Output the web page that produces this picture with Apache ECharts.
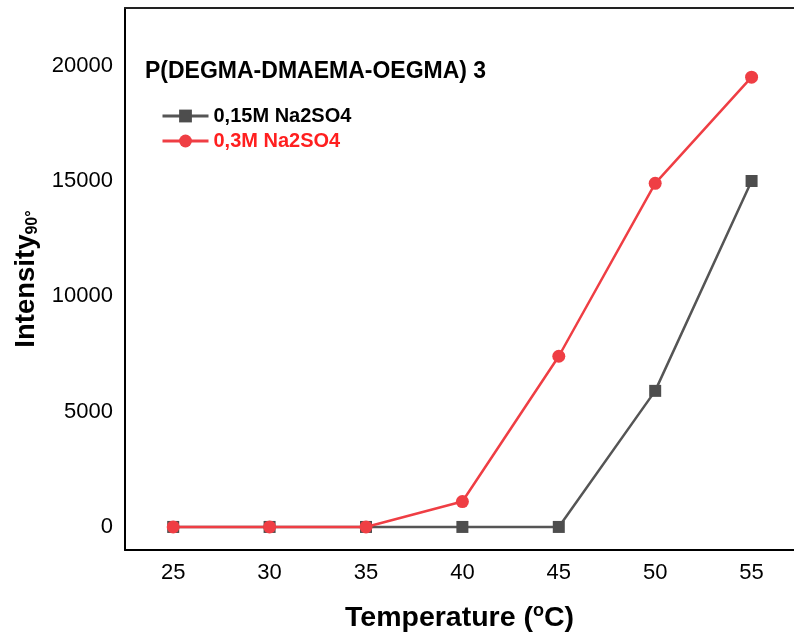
<!DOCTYPE html>
<html>
<head>
<meta charset="utf-8">
<script src="https://cdn.jsdelivr.net/npm/echarts@6/dist/echarts.min.js"></script>
<style>html,body{margin:0;padding:0;background:#fff;}#c{width:794px;height:639px;}</style>
</head>
<body>
<div id="c"></div>
<script>
var temperatures = [25, 30, 35, 40, 45, 50, 55];
var na2so4_015 = [0, 0, 0, 0, 0, 5900, 15000];
var na2so4_03 = [0, 0, 0, 1100, 7400, 14900, 19500];
var xTicks = [25, 30, 35, 40, 45, 50, 55];
var yTicks = [0, 5000, 10000, 15000, 20000];
var seriesNames = ['0,15M Na2SO4', '0,3M Na2SO4'];
var titleText = 'P(DEGMA-DMAEMA-OEGMA) 3';

function pairs(xs, ys) { return xs.map(function (x, i) { return [x, ys[i]]; }); }
function plain(v) { return String(v); }

var font = 'Liberation Sans, Arial, sans-serif';
var chart = echarts.init(document.getElementById('c'), null, {renderer: 'canvas'});
chart.setOption({
  animation: false,
  backgroundColor: '#fff',
  textStyle: {fontFamily: font},
  title: {
    text: titleText, left: 145, top: 60, padding: 0,
    textStyle: {fontSize: 23, fontWeight: 'bold', color: '#000', fontFamily: font}
  },
  legend: {
    orient: 'vertical', left: 161, top: 106, padding: 0,
    itemWidth: 46, itemHeight: 16, itemGap: 5,
    lineStyle: {width: 3},
    textStyle: {fontSize: 20, fontWeight: 'bold', fontFamily: font},
    data: [
      {name: seriesNames[0], textStyle: {color: '#000'}},
      {name: seriesNames[1], textStyle: {color: '#ff1f1f'}}
    ]
  },
  grid: {left: 125, right: 0, top: 8, bottom: 89},
  xAxis: [{
    type: 'value', min: 22.5, max: 57.2,
    axisLine: {show: true, onZero: false, lineStyle: {color: '#000', width: 2}},
    axisTick: {show: false},
    splitLine: {show: false},
    axisLabel: {customValues: xTicks, formatter: plain, fontSize: 22, color: '#000', margin: 12, fontFamily: font},
    name: '{b|Temperature (}{sup|o}{b|C)}',
    nameLocation: 'middle', nameGap: 52,
    nameTextStyle: {
      rich: {
        b: {fontSize: 28.5, fontWeight: 'bold', color: '#000', fontFamily: font, lineHeight: 32},
        sup: {fontSize: 18, fontWeight: 'bold', color: '#000', fontFamily: font, verticalAlign: 'top', lineHeight: 18}
      }
    }
  }, {
    type: 'value', position: 'top', min: 22.5, max: 57.2,
    axisLine: {show: true, onZero: false, lineStyle: {color: '#222', width: 2}},
    axisTick: {show: false}, axisLabel: {show: false}, splitLine: {show: false}
  }],
  yAxis: {
    type: 'value', min: -1000, max: 22500,
    axisLine: {show: true, onZero: false, lineStyle: {color: '#000', width: 2}},
    axisTick: {show: false},
    splitLine: {show: false},
    axisLabel: {customValues: yTicks, formatter: plain, fontSize: 22, color: '#000', margin: 12, fontFamily: font},
    name: '{b|Intensity}{sub|90°}',
    nameLocation: 'middle', nameRotate: 90, nameGap: 76,
    nameTextStyle: {
      rich: {
        b: {fontSize: 27.5, fontWeight: 'bold', color: '#000', fontFamily: font, lineHeight: 30},
        sub: {fontSize: 16, fontWeight: 'bold', color: '#000', fontFamily: font, verticalAlign: 'bottom', lineHeight: 18}
      }
    }
  },
  series: [{
    name: seriesNames[0], type: 'line', xAxisIndex: 0,
    data: pairs(temperatures, na2so4_015),
    symbol: 'rect', symbolSize: 12,
    itemStyle: {color: '#4d4d4d'},
    lineStyle: {color: '#555', width: 2.5}
  }, {
    name: seriesNames[1], type: 'line', xAxisIndex: 0,
    data: pairs(temperatures, na2so4_03),
    symbol: 'circle', symbolSize: 13,
    itemStyle: {color: '#ef3e44'},
    lineStyle: {color: '#ef3e44', width: 2.5}
  }]
});
</script>
</body>
</html>
